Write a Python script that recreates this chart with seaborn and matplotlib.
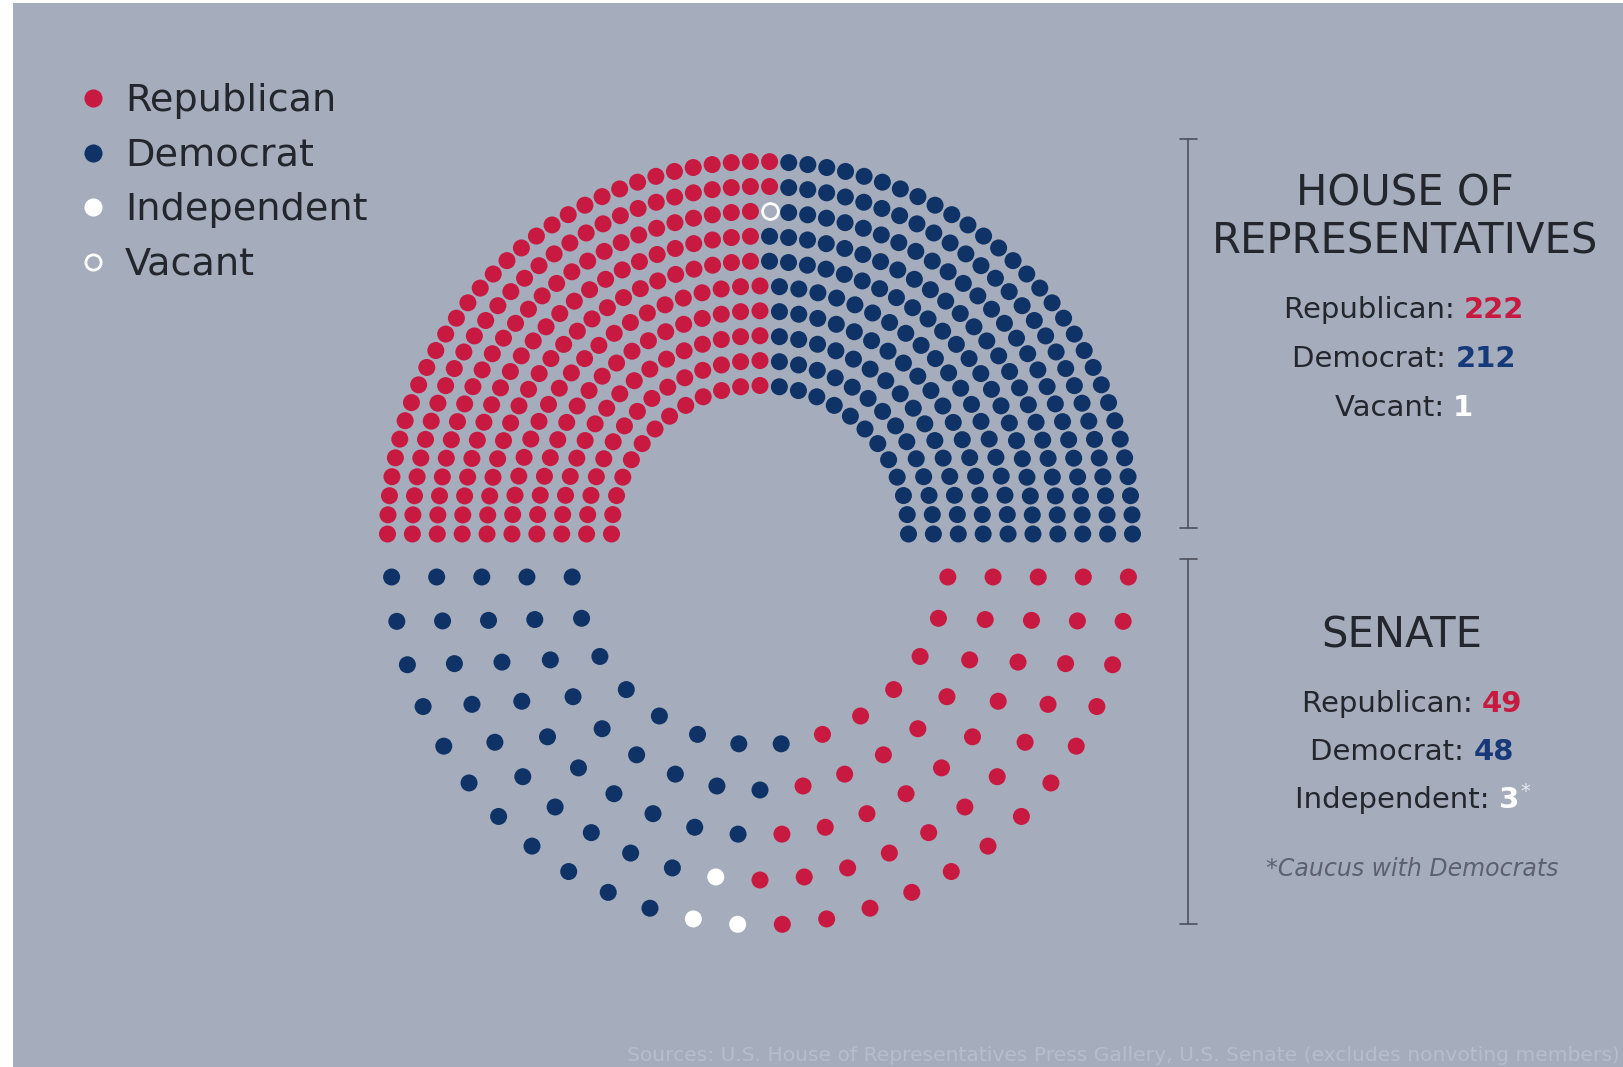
import numpy as np
import pandas as pd
import matplotlib
matplotlib.use("Agg")
import matplotlib.pyplot as plt
import seaborn as sns
from matplotlib import font_manager

# seat counts
house_parties = ["Republican", "Vacant", "Democrat"]
house_seats = [222, 1, 212]

# senate seats per ring (inner -> outer), left to right: Democrat, Independent, Republican
senate_parties = ["Democrat", "Independent", "Republican"]
senate_dem = [8, 9, 10, 10, 11]
senate_ind = [0, 0, 0, 1, 2]
senate_rep = [6, 8, 10, 12, 13]
senate_seats = [sum(senate_dem), sum(senate_ind), sum(senate_rep)]

legend_labels = ["Republican", "Democrat", "Independent", "Vacant"]
house_lines = ["Republican", "Democrat", "Vacant"]
senate_lines = ["Republican", "Democrat", "Independent"]
footnote = "*Caucus with Democrats"
source = "Sources: U.S. House of Representatives Press Gallery, U.S. Senate (excludes nonvoting members)"

bg = "#a5acbc"
red = "#c81a40"
navy = "#0f3366"
colors = {"Republican": red, "Democrat": navy, "Independent": "white", "Vacant": bg}
num_colors = {"Republican": "#c8193f", "Democrat": "#16397a", "Independent": "white", "Vacant": "white"}
ink = "#23262c"

W, H = 1623, 1067

sns.set_theme(style="white")
plt.rcParams["font.family"] = ["DejaVu Sans"]
names = {f.name for f in font_manager.fontManager.ttflist}
narrow = "Liberation Sans Narrow" if "Liberation Sans Narrow" in names else "DejaVu Sans"


def ring_counts(lengths, total):
    raw = total * lengths / lengths.sum()
    n = np.floor(raw).astype(int)
    order = np.argsort(-(raw - n))
    n[order[: total - n.sum()]] += 1
    return n


def house_layout(parties, seats, cx, cy, r_in, r_out, rings):
    radii = np.linspace(r_in, r_out, rings)
    counts = ring_counts(radii, sum(seats))
    xs, ys, angs, rs = [], [], [], []
    for r, n in zip(radii, counts):
        a = np.linspace(np.pi, 0, n)
        xs.append(cx + r * np.cos(a))
        ys.append(cy - r * np.sin(a))
        angs.append(a)
        rs.append(np.full(n, r))
    xs, ys, angs, rs = map(np.concatenate, (xs, ys, angs, rs))
    order = np.lexsort((rs, -angs))
    return pd.DataFrame({"x": xs[order], "y": ys[order],
                         "party": np.repeat(parties, seats)})


def senate_layout(parties, per_ring, cx, cy, r_in, r_out, offset):
    per_ring = np.array(per_ring)
    radii = np.linspace(r_in, r_out, per_ring.shape[1])
    rows = []
    for k, r in enumerate(radii):
        a0 = np.arcsin(offset / r)
        n = per_ring[:, k].sum()
        a = np.linspace(np.pi - a0, a0, n)
        rows.append(pd.DataFrame({"x": cx + r * np.cos(a), "y": cy + r * np.sin(a),
                                  "party": np.repeat(parties, per_ring[:, k])}))
    return pd.concat(rows, ignore_index=True)


house = house_layout(house_parties, house_seats, 760, 534, 148.5, 372.5, 10)
senate = senate_layout(senate_parties, [senate_dem, senate_ind, senate_rep],
                       760, 556, 189, 369, 21)
seats = pd.concat([house, senate], ignore_index=True)

fig = plt.figure(figsize=(W / 100, H / 100), dpi=100, facecolor="white")
fig.add_artist(plt.Rectangle((13 / W, 0), 1, 1 - 3 / H, transform=fig.transFigure,
                             facecolor=bg, edgecolor="none", zorder=0))
ax = fig.add_axes([0, 0, 1, 1])
ax.set_facecolor("none")
ax.set_xlim(0, W)
ax.set_ylim(H, 0)
ax.axis("off")

filled = seats[seats["party"] != "Vacant"]
sns.scatterplot(data=filled, x="x", y="y", hue="party", palette=colors, s=150,
                linewidth=0, legend=False, ax=ax, zorder=3)
sns.scatterplot(data=seats[seats["party"] == "Vacant"], x="x", y="y", color=bg,
                edgecolor="white", linewidth=2, s=130, legend=False, ax=ax, zorder=3)

# legend
for i, lab in enumerate(legend_labels):
    yb = 111 + i * 54.5
    if lab == "Vacant":
        ax.scatter(93, yb - 13, s=120, color=bg, edgecolor="white", linewidth=2, zorder=3)
    else:
        ax.scatter(93, yb - 13, s=170, color=colors[lab], linewidth=0, zorder=3)
    ax.text(125, yb, lab, fontsize=27.5, color=ink, va="baseline", ha="left")

# brackets
for y0, y1 in [(139, 528), (559, 924)]:
    ax.plot([1188, 1188], [y0, y1], color="#4b505b", lw=1.2)
    ax.plot([1180, 1197], [y0, y0], color="#4b505b", lw=1.2)
    ax.plot([1180, 1197], [y1, y1], color="#4b505b", lw=1.2)

ax.text(1405, 205, "HOUSE OF", fontsize=30, color=ink, ha="center", va="baseline")
ax.text(1405, 253, "REPRESENTATIVES", fontsize=30, color=ink, ha="center", va="baseline")
ax.text(1402, 648, "SENATE", fontsize=30, color=ink, ha="center", va="baseline")

renderer = fig.canvas.get_renderer()


def stat_line(xc, yb, party, value, size, star=False):
    t1 = ax.text(0, yb, party + ": ", fontsize=size, color=ink, va="baseline", ha="left")
    t2 = ax.text(0, yb, str(value), fontsize=size, color=num_colors[party],
                 fontweight="bold", va="baseline", ha="left")
    w1 = t1.get_window_extent(renderer).width
    w2 = t2.get_window_extent(renderer).width
    w3 = 10 if star else 0
    x0 = xc - (w1 + w2 + w3) / 2
    t1.set_x(x0)
    t2.set_x(x0 + w1)
    if star:
        ax.text(x0 + w1 + w2 + 1, yb - 11, "*", fontsize=14, color="#e6e9ef",
                va="baseline", ha="left")


for i, p in enumerate(house_lines):
    stat_line(1404, 318 + i * 49, p, house_seats[house_parties.index(p)], 21)
for i, p in enumerate(senate_lines):
    stat_line(1412, 712 + i * 48, p, senate_seats[senate_parties.index(p)], 21,
              star=(p == "Independent"))

ax.text(1412, 876, footnote, fontsize=17, style="italic", color="#5b6170",
        ha="center", va="baseline")

src = ax.text(1620, 1061, source, fontsize=14, color="#b6bdcc", ha="right",
              va="baseline", family=narrow)
src.set_fontsize(14 * 995 / src.get_window_extent(renderer).width)

fig.savefig("out.png", dpi=100, facecolor="white")
